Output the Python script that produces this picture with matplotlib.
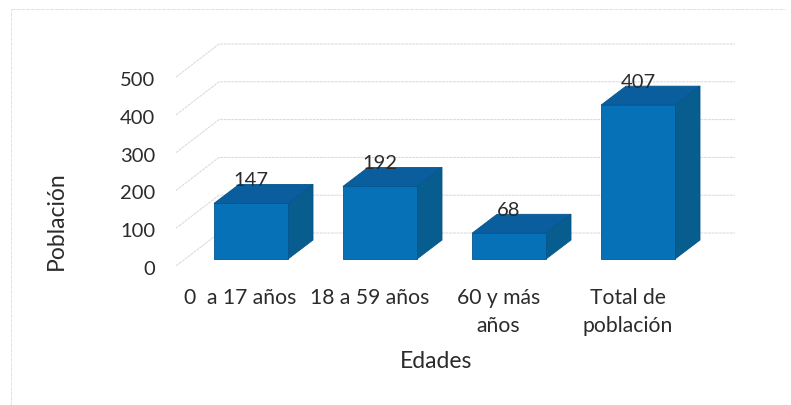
import matplotlib
matplotlib.use("Agg")
import matplotlib.pyplot as plt
from matplotlib.patches import Polygon
from matplotlib.transforms import ScaledTranslation

categories = ["0  a 17 años", "18 a 59 años", "60 y más\naños", "Total de\npoblación"]
values = [147, 192, 68, 407]
y_ticks = [0, 100, 200, 300, 400, 500]
y_label = "Población"
x_label = "Edades"

W, H = 791, 405
L, R, Y0, Y500 = 176, 692, 266, 77
fig = plt.figure(figsize=(W / 100, H / 100), dpi=100, facecolor="white")
ax = fig.add_axes([L / W, 1 - Y0 / H, (R - L) / W, (Y0 - Y500) / H])
ax.set_xlim(0, 4)
ax.set_ylim(0, 500)
ax.patch.set_visible(False)
for s in ax.spines.values():
    s.set_visible(False)

px_x = 4 / (R - L)
px_y = 500 / (Y0 - Y500)
FONT = "Lato"
TXT = "#2b2b2b"
GRID = "#d8d8d8"

# wall and floor guides
wx, wy = 43 * px_x, 33 * px_y
for t in y_ticks:
    ax.plot([0, wx, 4 + wx], [t, t + wy, t + wy], color=GRID, lw=0.7,
            ls=(0, (3, 0.8)), clip_on=False, zorder=1)

# bars
FRONT, TOP, SIDE, EDGE = "#0771B8", "#0A5E9E", "#075D8E", "#05558F"
bw = 74 * px_x
dx, dy = 25 * px_x, 19 * px_y
fx, fy = 10.5 * px_x, 7 * px_y
centers = [i + 0.5 + fx for i in range(len(values))]
for c, v in zip(centers, values):
    x0, x1 = c - bw / 2, c + bw / 2
    b, t = fy, fy + v
    ax.add_patch(Polygon([(x0, t), (x1, t), (x1 + dx, t + dy), (x0 + dx, t + dy)],
                         fc=TOP, ec=EDGE, lw=0.6, clip_on=False, zorder=3))
    ax.add_patch(Polygon([(x1, b), (x1 + dx, b + dy), (x1 + dx, t + dy), (x1, t)],
                         fc=SIDE, ec=EDGE, lw=0.6, clip_on=False, zorder=3))
ax.bar(centers, values, width=bw, bottom=fy, color=FRONT, edgecolor=EDGE, lw=0.6,
       clip_on=False, zorder=4)
for c, v in zip(centers, values):
    ax.text(c, fy + v + dy - 1.5 * px_y, str(v), ha="center", va="baseline", fontsize=14.5,
            family=FONT, color=TXT, zorder=5, clip_on=False)

# axes text
ax.set_xticks([i + 0.5 for i in range(4)], categories, family=FONT, fontsize=15.2,
              color=TXT, linespacing=1.5)
ax.set_yticks(y_ticks, [str(t) for t in y_ticks], family=FONT, fontsize=14.5, color=TXT)
ax.tick_params(axis="x", length=0, pad=15.5)
ax.tick_params(axis="y", length=0, pad=15)
shift = ScaledTranslation(0, -2 / 100, fig.dpi_scale_trans)
for lab in ax.get_yticklabels():
    lab.set_transform(lab.get_transform() + shift)
ax.set_xlabel(x_label, family=FONT, fontsize=16.5, color=TXT)
ax.set_ylabel(y_label, family=FONT, fontsize=16.5, color=TXT)
ax.xaxis.set_label_coords((436 - L) / (R - L), (Y0 - 362) / (Y0 - Y500), transform=ax.transAxes)
ax.xaxis.label.set_va("center")
ax.yaxis.set_label_coords((56 - L) / (R - L), (Y0 - 221) / (Y0 - Y500), transform=ax.transAxes)
ax.yaxis.label.set_va("center")

# chart frame left by the scan
frame = dict(color="#e2e2e2", lw=0.7, ls=(0, (4, 1)))
fig.add_artist(plt.Line2D([11 / W, 11 / W], [0, 1 - 9 / H], **frame))
fig.add_artist(plt.Line2D([11 / W, 785 / W], [1 - 9 / H, 1 - 9 / H], **frame))

fig.savefig("out.png", dpi=100)
